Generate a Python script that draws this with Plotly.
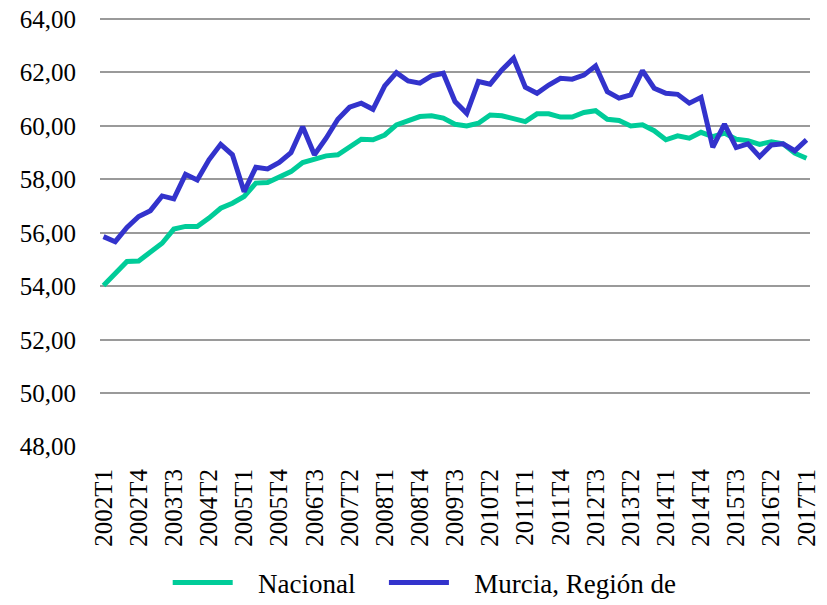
import plotly.graph_objects as go

quarters = [f"{y}T{q}" for y in range(2002, 2018) for q in range(1, 5)][:61]

nacional = [54.03, 54.5, 54.93, 54.95, 55.28, 55.61, 56.14, 56.24, 56.24, 56.55,
            56.92, 57.11, 57.36, 57.86, 57.88, 58.1, 58.29, 58.63, 58.76, 58.88,
            58.92, 59.23, 59.5, 59.48, 59.66, 60.04, 60.22, 60.35, 60.38, 60.29,
            60.06, 60.0, 60.1, 60.41, 60.38, 60.25, 60.16, 60.45, 60.45, 60.33,
            60.33, 60.5, 60.57, 60.25, 60.2, 60.0, 60.04, 59.82, 59.48, 59.63,
            59.54, 59.76, 59.6, 59.73, 59.5, 59.45, 59.31, 59.41, 59.33, 58.98,
            58.79]

murcia = [55.86, 55.67, 56.2, 56.61, 56.83, 57.38, 57.27, 58.19, 57.98, 58.73,
          59.31, 58.92, 57.54, 58.45, 58.39, 58.63, 59.0, 59.97, 58.92, 59.54,
          60.25, 60.7, 60.85, 60.62, 61.5, 61.99, 61.68, 61.6, 61.87, 61.97,
          60.91, 60.47, 61.66, 61.56, 62.09, 62.53, 61.45, 61.22, 61.53, 61.78,
          61.75, 61.9, 62.24, 61.28, 61.04, 61.16, 62.07, 61.41, 61.22, 61.18,
          60.85, 61.07, 59.2, 60.07, 59.19, 59.33, 58.85, 59.29, 59.33, 59.07,
          59.48]

tick_labels = quarters[::3]
y_ticks = [48, 50, 52, 54, 56, 58, 60, 62, 64]

font = "Liberation Serif, Times New Roman, serif"
pad = "\u00a0\u00a0\u00a0"

fig = go.Figure()
fig.add_trace(go.Scatter(x=quarters, y=nacional, mode="lines", name=pad + "Nacional",
                         line=dict(color="#00CC99", width=5), legend="legend"))
fig.add_trace(go.Scatter(x=quarters, y=murcia, mode="lines", name=pad + "Murcia, Región de",
                         line=dict(color="#3333CC", width=5), legend="legend2"))

fig.update_layout(
    width=819, height=597,
    margin=dict(l=92, r=17, t=0, b=158, autoexpand=False),
    plot_bgcolor="white", paper_bgcolor="white",
    font=dict(family=font, size=25, color="black"),
    separators=",.",
    showlegend=True,
    legend=dict(orientation="h", xref="container", yref="container",
                x=0.195, xanchor="left", y=0.037, yanchor="middle", itemwidth=60,
                font=dict(family=font, size=27), bgcolor="rgba(0,0,0,0)"),
    legend2=dict(orientation="h", xref="container", yref="container",
                 x=0.459, xanchor="left", y=0.037, yanchor="middle", itemwidth=60,
                 font=dict(family=font, size=27), bgcolor="rgba(0,0,0,0)"),
    xaxis=dict(type="category", tickmode="array", tickvals=tick_labels, ticktext=tick_labels,
               tickangle=-90, showgrid=False, showline=False, ticks="",
               ticklabelstandoff=16, automargin=False,
               range=[-0.3, 60.3], tickfont=dict(family=font, size=25)),
    yaxis=dict(range=[47.99, 64.41], tickmode="array", tickvals=y_ticks,
               tickformat=".2f", showgrid=True, ticklabeloverflow="allow",
               gridcolor="#9a9a9a", gridwidth=1.5, zeroline=False, showline=False,
               ticks="", ticklabelstandoff=23, automargin=False,
               tickfont=dict(family=font, size=25)),
)

fig.write_html("out.html")
